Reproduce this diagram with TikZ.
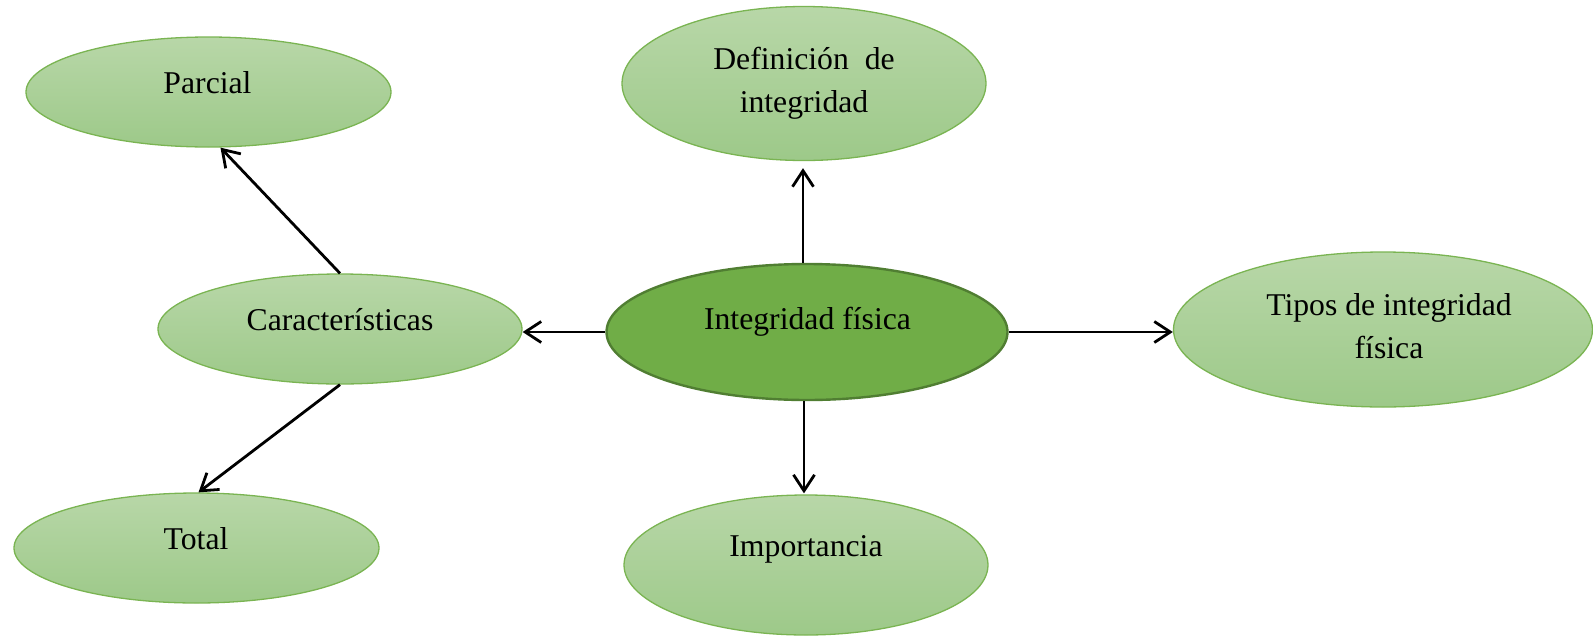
\documentclass[tikz,border=0pt]{standalone}
\usepackage{fontspec}
\setmainfont{Liberation Serif}
\usetikzlibrary{arrows.meta,shapes.geometric}
\definecolor{lgtop}{RGB}{184,215,168}
\definecolor{lgbot}{RGB}{157,201,137}
\definecolor{lgborder}{RGB}{122,180,82}
\definecolor{dgfill}{RGB}{112,173,71}
\definecolor{dgborder}{RGB}{80,126,50}
\tikzset{
  bubble/.style={ellipse, draw=lgborder, line width=1.3pt, top color=lgtop, bottom color=lgbot, inner sep=0pt},
  hub/.style={ellipse, draw=dgborder, fill=dgfill, line width=2.4pt, inner sep=0pt},
  lbl/.style={anchor=base, inner sep=0pt, font=\fontsize{31.7}{43}\selectfont},
  arr/.style={line width=2.8pt, -{Straight Barb[length=16pt,width=21pt,line width=2.8pt]}},
}
\begin{document}
\begin{tikzpicture}[x=1pt,y=-1pt]
\useasboundingbox (0,0) rectangle (1593,635);
% ellipses
\node[bubble, minimum width=365pt, minimum height=110pt] (par) at (208.5,92) {};
\node[bubble, minimum width=364pt, minimum height=154pt] (def) at (804,83.5) {};
\node[bubble, minimum width=364pt, minimum height=110pt] (car) at (340,329) {};
\node[hub, minimum width=401pt, minimum height=136pt] (cent) at (807,332) {};
\node[bubble, minimum width=419pt, minimum height=155pt] (tip) at (1383,329.5) {};
\node[bubble, minimum width=365pt, minimum height=110pt] (tot) at (196.5,548) {};
\node[bubble, minimum width=364pt, minimum height=140pt] (imp) at (806,565) {};
% texts
\node[lbl] (parT) at (207.5,93) {Parcial};
\node[lbl] (defT1) at (804,69) {Definición\ \ de};
\node[lbl] (defT2) at (804,112) {integridad};
\node[lbl] (carT) at (340,330) {Características};
\node[lbl] (centT) at (807.5,329) {Integridad física};
\node[lbl] (tipT1) at (1389,315) {Tipos de integridad};
\node[lbl] (tipT2) at (1389,358) {física};
\node[lbl] (totT) at (196,549) {Total};
\node[lbl] (impT) at (806,556) {Importancia};
% connectors
\draw[arr, shorten >=7pt] ([xshift=-4pt]cent.north) -- ([xshift=-4pt]cent.north |- def.south);
\draw[arr, shorten >=1pt] ([xshift=-3pt]cent.south) -- ([xshift=-3pt]cent.south |- imp.north);
\draw[arr] (cent.west) -- (cent.west -| car.east);
\draw[arr] (cent.east) -- (cent.east -| tip.west);
\draw[arr] (car.north) -- ([xshift=12pt]par.south);
\draw[arr] (car.south) -- ([xshift=2pt]tot.north);
\end{tikzpicture}
\end{document}
